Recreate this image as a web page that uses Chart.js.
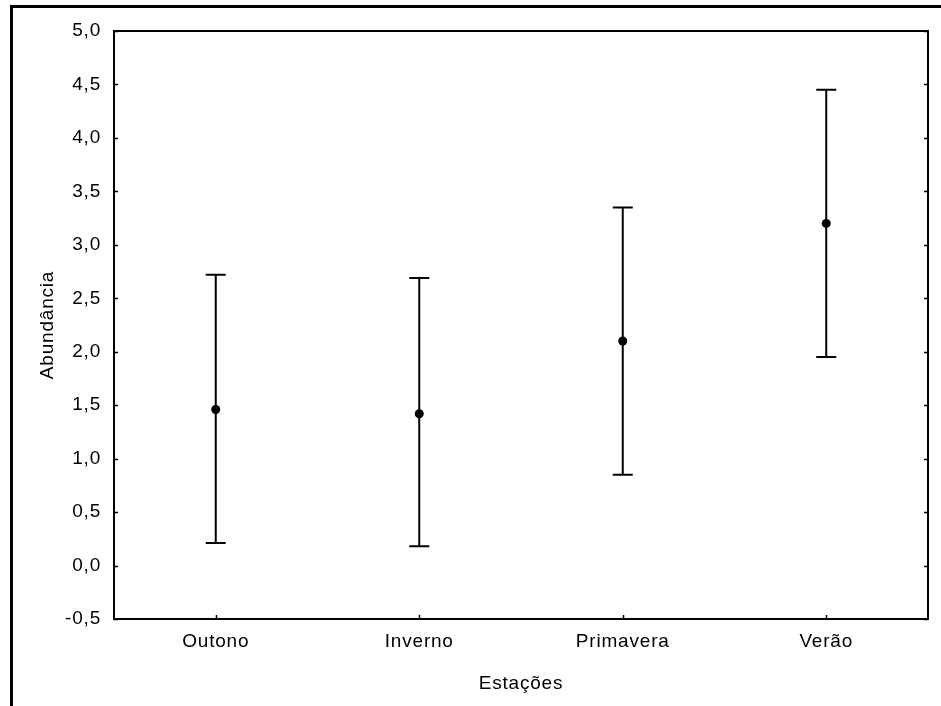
<!DOCTYPE html>
<html>
<head>
<meta charset="utf-8">
<script src="https://cdn.jsdelivr.net/npm/chart.js@4/dist/chart.umd.min.js"></script>
<style>
  html, body { margin: 0; padding: 0; background: #fff; }
  #wrap { position: relative; width: 941px; height: 706px; }
  canvas { display: block; }
</style>
</head>
<body>
<div id="wrap"><canvas id="c" width="941" height="706"></canvas></div>
<script>
// Seasons and abundance (mean with lower/upper interval limits)
const seasons = ['Outono', 'Inverno', 'Primavera', 'Verão'];
const meanValues = [1.46, 1.42, 2.10, 3.20];
const lowerValues = [0.21, 0.18, 0.85, 1.95];
const upperValues = [2.72, 2.69, 3.35, 4.45];
const yTickLabels = ['-0,5', '0,0', '0,5', '1,0', '1,5', '2,0', '2,5', '3,0', '3,5', '4,0', '4,5', '5,0'];

const FONT = "'Liberation Sans', Arial, sans-serif";
const INK = '#000';
const SPACING = '0.8px';

// Slightly tracked text, applied before measuring and before drawing
const spacingPlugin = {
  id: 'spacing',
  beforeLayout(chart) { chart.ctx.letterSpacing = SPACING; },
  beforeDraw(chart) { chart.ctx.letterSpacing = SPACING; }
};

// Page frame, plot box, inward tick marks and interval whiskers
const framePlugin = {
  id: 'frame',
  beforeDraw(chart) {
    const ctx = chart.ctx;
    ctx.save();
    ctx.fillStyle = '#fff';
    ctx.fillRect(0, 0, chart.width, chart.height);
    ctx.fillStyle = INK;
    ctx.fillRect(10, 5, chart.width - 10, 3);
    ctx.fillRect(10, 5, 3, chart.height - 5);
    ctx.restore();
  },
  beforeDatasetsDraw(chart) {
    const ctx = chart.ctx;
    const a = chart.chartArea;
    const xs = chart.scales.x, ys = chart.scales.y;
    ctx.save();
    ctx.strokeStyle = INK;
    ctx.lineWidth = 2;
    ctx.strokeRect(a.left, a.top, a.right - a.left, a.bottom - a.top);
    ctx.lineWidth = 1.5;
    ctx.beginPath();
    ys.ticks.forEach(t => {
      const y = Math.round(ys.getPixelForValue(t.value)) + 0.5;
      ctx.moveTo(a.left, y); ctx.lineTo(a.left + 4, y);
      ctx.moveTo(a.right - 4, y); ctx.lineTo(a.right, y);
    });
    seasons.forEach((s, i) => {
      const x = Math.round(xs.getPixelForValue(i)) + 0.5;
      ctx.moveTo(x, a.bottom); ctx.lineTo(x, a.bottom - 4);
    });
    ctx.stroke();

    // whiskers
    ctx.lineWidth = 2;
    ctx.beginPath();
    seasons.forEach((s, i) => {
      const x = xs.getPixelForValue(i);
      const yLo = ys.getPixelForValue(lowerValues[i]);
      const yHi = ys.getPixelForValue(upperValues[i]);
      ctx.moveTo(x, yLo); ctx.lineTo(x, yHi);
      ctx.moveTo(x - 10, yHi); ctx.lineTo(x + 10, yHi);
      ctx.moveTo(x - 10, yLo); ctx.lineTo(x + 10, yLo);
    });
    ctx.stroke();
    ctx.restore();
  }
};

new Chart(document.getElementById('c'), {
  type: 'line',
  data: {
    labels: seasons,
    datasets: [{
      label: 'Abundância',
      data: meanValues,
      showLine: false,
      pointRadius: 4.5,
      pointBackgroundColor: INK,
      pointBorderColor: INK,
      pointBorderWidth: 0
    }]
  },
  options: {
    responsive: false,
    animation: false,
    devicePixelRatio: 1,
    layout: { padding: { left: 32, top: 31, right: 13, bottom: 7 } },
    plugins: { legend: { display: false }, tooltip: { enabled: false } },
    scales: {
      x: {
        type: 'category',
        offset: true,
        grid: { display: false, drawTicks: false },
        border: { display: false },
        ticks: { color: INK, font: { family: FONT, size: 19 }, padding: 11, maxRotation: 0 },
        title: { display: true, text: 'Estações', color: INK, font: { family: FONT, size: 19 } },
        afterFit(scale) { scale.height = 80; }
      },
      y: {
        min: -0.5,
        max: 5.0,
        grid: { display: false, drawTicks: false },
        border: { display: false },
        ticks: {
          stepSize: 0.5,
          color: INK,
          padding: 13,
          font: { family: FONT, size: 19 },
          callback: (v, i) => yTickLabels[i]
        },
        title: { display: true, text: 'Abundância', color: INK, font: { family: FONT, size: 19 } },
        afterFit(scale) { scale.width = 82; }
      }
    }
  },
  plugins: [spacingPlugin, framePlugin]
});
</script>
</body>
</html>
